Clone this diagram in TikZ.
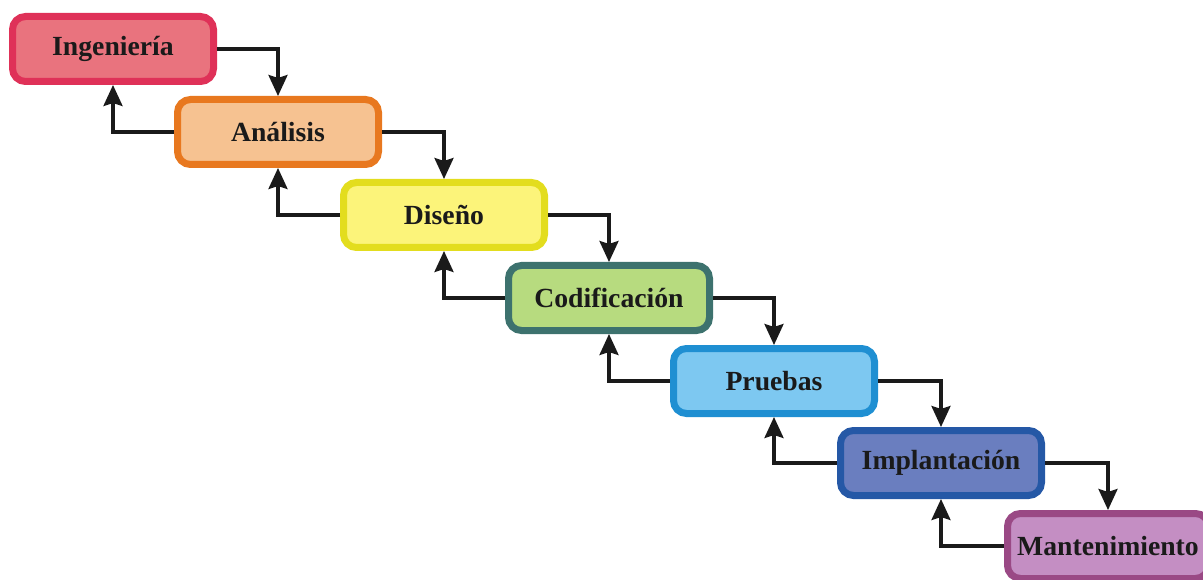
\documentclass[tikz,border=0pt]{standalone}
\usepackage{fontspec}
\setmainfont{Liberation Serif}
\usetikzlibrary{arrows.meta}
\definecolor{ingB}{HTML}{DF3158}\definecolor{ingF}{HTML}{E9737E}
\definecolor{anaB}{HTML}{E8781F}\definecolor{anaF}{HTML}{F6C291}
\definecolor{disB}{HTML}{E3DD1E}\definecolor{disF}{HTML}{FCF47A}
\definecolor{codB}{HTML}{3D726E}\definecolor{codF}{HTML}{B7DB7F}
\definecolor{pruB}{HTML}{1F8FD2}\definecolor{pruF}{HTML}{7DC8F1}
\definecolor{impB}{HTML}{2558A6}\definecolor{impF}{HTML}{6A7EBF}
\definecolor{manB}{HTML}{9A4985}\definecolor{manF}{HTML}{C48EC3}
\definecolor{ink}{HTML}{1A1A1A}
\tikzset{
  phase/.style={draw=#1B, fill=#1F, line width=7pt, rounded corners=13pt,
    minimum width=201pt, minimum height=65pt, inner sep=0pt,
    font=\fontsize{27.7}{30}\selectfont\bfseries, text=ink},
  flow/.style={ink, line width=3.2pt,
    -{Stealth[length=21pt,width=19pt,inset=3pt]}}
}
\begin{document}
\begin{tikzpicture}[x=1pt,y=-1pt]
\useasboundingbox (0,0) rectangle (1203,580);
\clip (0,0) rectangle (1203,580);
\node[phase=ing] (ing) at (113,49) {Ingeniería};
\node[phase=ana] (ana) at (278,132) {Análisis};
\node[phase=dis] (dis) at (444,215) {Diseño};
\node[phase=cod] (cod) at (609,298) {Codificación};
\node[phase=pru] (pru) at (774,381) {Pruebas};
\node[phase=imp] (imp) at (941,463) {Implantación};
\node[phase=man] (man) at (1108,546) {Mantenimiento};
% forward steps
\foreach \a/\b in {ing/ana, ana/dis, dis/cod, cod/pru, pru/imp, imp/man}
  \draw[flow] (\a.east) -| (\b.north);
% feedback steps
\foreach \a/\b in {ana/ing, dis/ana, cod/dis, pru/cod, imp/pru, man/imp}
  \draw[flow] (\a.west) -| (\b.south);
\end{tikzpicture}
\end{document}
